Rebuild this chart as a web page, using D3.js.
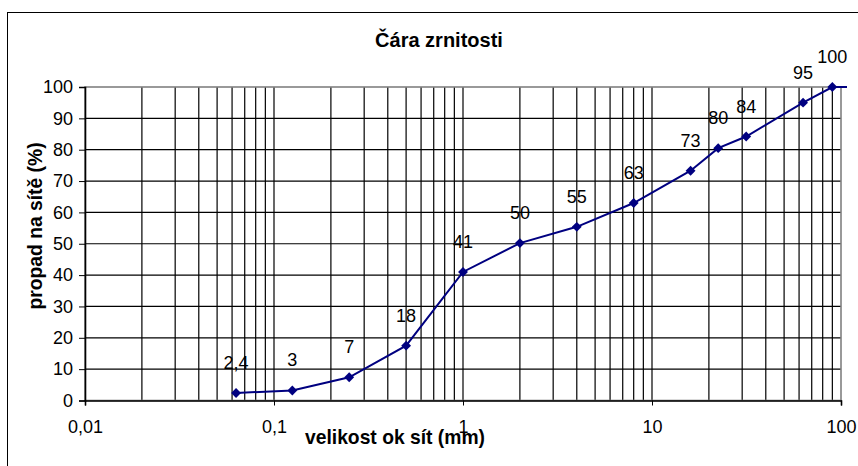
<!DOCTYPE html>
<html>
<head>
<meta charset="utf-8">
<script src="https://cdn.jsdelivr.net/npm/d3@7"></script>
<style>
  body { margin: 0; background: #fff; }
  svg { display: block; font-family: "Liberation Sans", Arial, sans-serif; }
</style>
</head>
<body>
<svg id="chart" width="858" height="466"></svg>
<script>
"use strict";

// sieve sizes (mm) and passing percentages
var sieveSizes = [0.063, 0.125, 0.25, 0.5, 1, 2, 4, 8, 16, 22.4, 31.5, 63, 90];
var passing = [2.4, 3.2, 7.4, 17.5, 41, 50.2, 55.4, 63, 73.3, 80.5, 84.2, 95, 100];
var pointLabels = ["2,4", "3", "7", "18", "41", "50", "55", "63", "73", "80", "84", "95", "100"];
// the series runs on past the last sieve, off the right edge of the plot
var tailSize = 125, tailPassing = 100;

var xTicks = [0.01, 0.1, 1, 10, 100];
var xTickLabels = ["0,01", "0,1", "1", "10", "100"];
var yTicks = [0, 10, 20, 30, 40, 50, 60, 70, 80, 90, 100];

var titleText = "Čára zrnitosti";
var xTitle = "velikost ok sít (mm)";
var yTitle = "propad na sítě (%)";

var svg = d3.select("#chart");

// plot area
var plotLeft = 85, plotRight = 841, plotTop = 87, plotBottom = 400.5;

var x = d3.scaleLog().domain([0.01, 100]).range([plotLeft, plotRight]);
var y = d3.scaleLinear().domain([0, 100]).range([plotBottom, plotTop]);

// outer chart border (the picture is cut off at right and bottom)
svg.append("rect")
    .attr("x", 7.5).attr("y", 12.5)
    .attr("width", 900).attr("height", 500)
    .attr("fill", "none").attr("stroke", "#000").attr("stroke-width", 1);

// title
svg.append("text")
    .attr("x", 439).attr("y", 47)
    .attr("text-anchor", "middle")
    .attr("font-size", 20).attr("font-weight", "bold")
    .text(titleText);

// vertical grid lines: every 1..9 step of each decade
var gridX = [];
for (var d = 0; d < xTicks.length - 1; d++) {
    for (var k = 1; k <= 9; k++) {
        var v = xTicks[d] * k;
        if (v > 0.01) gridX.push(v);
    }
}

var grid = svg.append("g");
grid.selectAll("line.vx").data(gridX)
    .enter().append("line")
    .attr("class", "vx")
    .attr("x1", function(d) { return x(d); })
    .attr("x2", function(d) { return x(d); })
    .attr("y1", plotTop).attr("y2", plotBottom)
    .attr("stroke", "#000").attr("stroke-width", 1.2);

grid.selectAll("line.hy").data(yTicks.filter(function(d) { return d > 0 && d < 100; }))
    .enter().append("line")
    .attr("class", "hy")
    .attr("x1", plotLeft).attr("x2", plotRight)
    .attr("y1", function(d) { return y(d); })
    .attr("y2", function(d) { return y(d); })
    .attr("stroke", "#000").attr("stroke-width", 1.2);

// plot area frame
svg.append("rect")
    .attr("x", plotLeft).attr("y", plotTop)
    .attr("width", plotRight - plotLeft).attr("height", plotBottom - plotTop)
    .attr("fill", "none").attr("stroke", "#808080").attr("stroke-width", 1.6);

// y axis
var yAxis = d3.axisLeft(y).tickValues(yTicks).tickSize(6).tickPadding(6)
    .tickFormat(function(d) { return d; });
var gy = svg.append("g").attr("transform", "translate(" + plotLeft + ",0)").call(yAxis);
gy.select(".domain").attr("stroke", "#000").attr("stroke-width", 1.6);
gy.selectAll(".tick line").attr("stroke", "#000");
gy.selectAll(".tick text")
    .attr("font-size", 18).attr("font-family", "Liberation Sans, Arial, sans-serif")
    .attr("fill", "#000");

// x axis
var xAxis = d3.axisBottom(x).tickValues(xTicks).tickSize(5).tickPadding(15)
    .tickFormat(function(d, i) { return xTickLabels[i]; });
var gx = svg.append("g").attr("transform", "translate(0," + plotBottom + ")").call(xAxis);
gx.select(".domain").attr("stroke", "#000").attr("stroke-width", 1.6);
gx.selectAll(".tick line").attr("stroke", "#000");
gx.selectAll(".tick text")
    .attr("font-size", 18).attr("font-family", "Liberation Sans, Arial, sans-serif")
    .attr("fill", "#000");

// axis titles
svg.append("text")
    .attr("x", 395).attr("y", 444)
    .attr("text-anchor", "middle")
    .attr("font-size", 19.3).attr("font-weight", "bold")
    .text(xTitle);

svg.append("text")
    .attr("transform", "translate(42,226) rotate(-90)")
    .attr("text-anchor", "middle")
    .attr("font-size", 19.3).attr("font-weight", "bold")
    .text(yTitle);

// series
var pts = sieveSizes.map(function(s, i) { return { s: s, p: passing[i], label: pointLabels[i] }; });

svg.append("clipPath").attr("id", "clip")
    .append("rect").attr("x", plotLeft - 5).attr("y", 0)
    .attr("width", plotRight - plotLeft + 11).attr("height", plotBottom + 5);

var line = d3.line()
    .x(function(d) { return x(d.s); })
    .y(function(d) { return y(d.p); });

svg.append("path")
    .datum(pts.concat([{ s: tailSize, p: tailPassing }]))
    .attr("clip-path", "url(#clip)")
    .attr("d", line)
    .attr("fill", "none")
    .attr("stroke", "#000080")
    .attr("stroke-width", 2);

svg.selectAll("path.marker").data(pts)
    .enter().append("path")
    .attr("class", "marker")
    .attr("transform", function(d) { return "translate(" + x(d.s) + "," + y(d.p) + ")"; })
    .attr("d", d3.symbol().type(d3.symbolDiamond2).size(62))
    .attr("fill", "#000080");

svg.selectAll("text.plabel").data(pts)
    .enter().append("text")
    .attr("class", "plabel")
    .attr("x", function(d) { return x(d.s); })
    .attr("y", function(d) { return y(d.p) - 24; })
    .attr("text-anchor", "middle")
    .attr("font-size", 18)
    .attr("fill", "#000")
    .text(function(d) { return d.label; });
</script>
</body>
</html>
